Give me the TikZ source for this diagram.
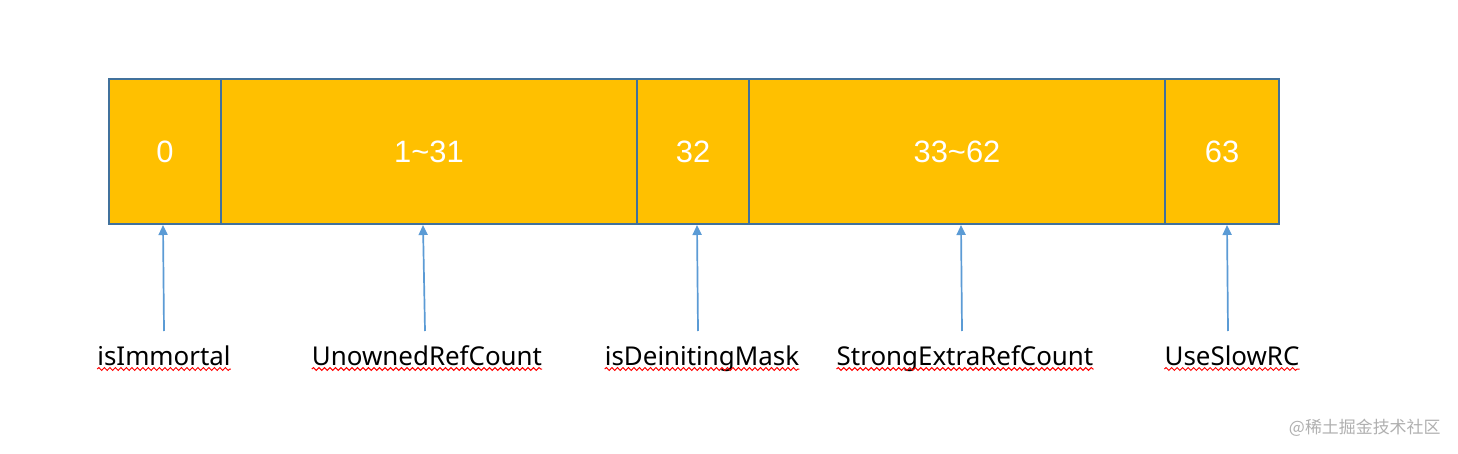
\documentclass[tikz,border=0pt]{standalone}
\usepackage{fontspec}
\setmainfont{Noto Sans}
\newfontfamily\numfont{Liberation Sans}
\newfontfamily\cjkfont{Noto Sans CJK SC}
\usetikzlibrary{arrows.meta,decorations.pathmorphing}
\definecolor{cellfill}{HTML}{FFC000}
\definecolor{celledge}{HTML}{41719C}
\definecolor{arrowblue}{HTML}{5B9BD5}
\definecolor{wmgray}{HTML}{B0B0B0}
\tikzset{
  cell/.style={draw=celledge, line width=2bp, fill=cellfill, text=white, font=\numfont\fontsize{31}{31}\selectfont},
  pointer/.style={draw=arrowblue, line width=1.7bp, -{Triangle[length=10bp,width=9bp]}},
  lbl/.style={font=\fontsize{26}{26}\selectfont, text=black, inner sep=0pt, anchor=base},
  squig/.style={draw=red, line width=1bp, decorate, decoration={snake, amplitude=1.4bp, segment length=5.5bp}}
}
\begin{document}
\begin{tikzpicture}[x=1bp,y=-1bp]
\useasboundingbox (0,0) rectangle (1458,454);
\fill[white] (0,0) rectangle (1458,454);
% cells
\path[cell] (109,79) rectangle (221,224) node[midway] (c0) {0};
\path[cell] (221,79) rectangle (637,224) node[midway] (c1) {1\textasciitilde31};
\path[cell] (637,79) rectangle (749,224) node[midway] (c2) {32};
\path[cell] (749,79) rectangle (1165,224) node[midway] (c3) {33\textasciitilde62};
\path[cell] (1165,79) rectangle (1279,224) node[midway] (c4) {63};
% labels
\node[lbl] (l0) at (164,365) {isImmortal};
\node[lbl] (l1) at (427,365) {UnownedRefCount};
\node[lbl] (l2) at (702,365) {isDeinitingMask};
\node[lbl] (l3) at (965,365) {StrongExtraRefCount};
\node[lbl] (l4) at (1232,365) {UseSlowRC};
% squiggles
\foreach \n in {l0,l1,l2,l3,l4}{
  \path[squig] ([yshift=-4bp]\n.base west) -- ([yshift=-4bp]\n.base east);
}
% arrow anchor coordinates
\coordinate (t0) at (163,225); \coordinate (b0) at (164,331);
\coordinate (t1) at (423,225); \coordinate (b1) at (425,331);
\coordinate (t2) at (697,225); \coordinate (b2) at (698,331);
\coordinate (t3) at (961,225); \coordinate (b3) at (962,331);
\coordinate (t4) at (1227,225); \coordinate (b4) at (1228,331);
\foreach \i in {0,...,4}{ \draw[pointer] (b\i) -- (t\i); }
% watermark
\node[font=\cjkfont\fontsize{17}{17}\selectfont, text=wmgray, anchor=east] (wm) at (1444,428) {@稀土掘金技术社区};
\end{tikzpicture}
\end{document}
